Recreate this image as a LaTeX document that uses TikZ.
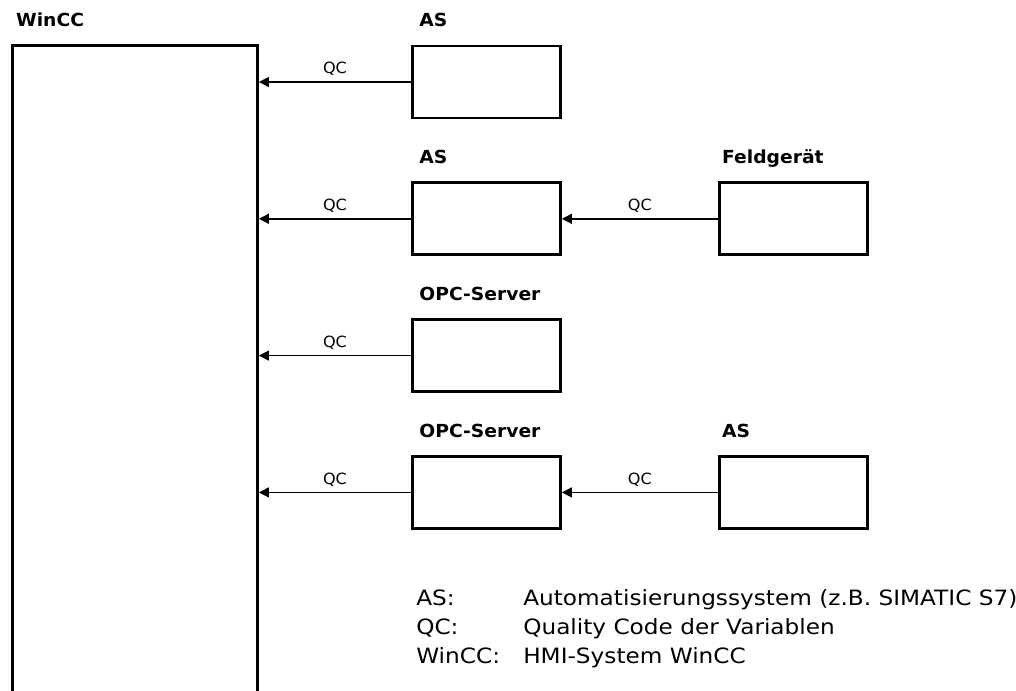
\documentclass[tikz,border=0pt]{standalone}
\usepackage{fontspec}
\setmainfont{DejaVu Sans}
\newfontfamily\lblfont[FakeStretch=1.04]{DejaVu Sans}
\newfontfamily\legfont[FakeStretch=1.1]{DejaVu Sans}
\usetikzlibrary{arrows.meta, positioning}

\begin{document}
\begin{tikzpicture}[
    node distance=1.55cm and 3.9cm, % Abstand zwischen den Kaesten
    % Gaengige Formen
    unit/.style={rectangle, draw=black, line width=2pt, minimum width=3.7cm, minimum height=1.8cm, inner sep=0pt},
    frame/.style={rectangle, draw=black, line width=2pt, minimum width=6.125cm, minimum height=16.6375cm, inner sep=0pt},
    lbl/.style={font=\lblfont\bfseries\fontsize{12.8}{15}\selectfont, inner sep=0pt, anchor=base west},
    qc/.style={font=\lblfont\fontsize{11}{13}\selectfont, above, inner sep=3pt, yshift=1pt},
    leg/.style={font=\legfont\fontsize{15}{18}\selectfont, inner sep=0pt, anchor=base west},
    % Pfeile
    arrow/.style={-{Triangle[length=7pt, width=7pt]}, line width=1pt}
]
\useasboundingbox (0,0) rectangle (25.4,17.275);

% WinCC (unten offen)
\node (wincc) [frame] at (3.375,7.81875) {};
\node (winccl) [lbl] at ([xshift=0.12cm, yshift=0.45cm]wincc.north west) {WinCC};

% Kaesten
\node (as1) [unit] at (12.1625,15.225) {};
\node (as2) [unit, below=of as1] {};
\node (feld) [unit, right=of as2] {};
\node (opc1) [unit, below=of as2] {};
\node (opc2) [unit, below=of opc1] {};
\node (as3) [unit, right=of opc2] {};

% Beschriftungen
\node (as1l) [lbl] at ([xshift=0.2cm, yshift=0.45cm]as1.north west) {AS};
\node (as2l) [lbl] at ([xshift=0.2cm, yshift=0.45cm]as2.north west) {AS};
\node (feldl) [lbl] at ([xshift=0.1cm, yshift=0.45cm]feld.north west) {Feldgerät};
\node (opc1l) [lbl] at ([xshift=0.2cm, yshift=0.45cm]opc1.north west) {OPC-Server};
\node (opc2l) [lbl] at ([xshift=0.2cm, yshift=0.45cm]opc2.north west) {OPC-Server};
\node (as3l) [lbl] at ([xshift=0.1cm, yshift=0.45cm]as3.north west) {AS};

% Verbindungen
\draw [arrow] (as1.west) -- (as1.west -| wincc.east) node[qc, midway] {QC};
\draw [arrow] (as2.west) -- (as2.west -| wincc.east) node[qc, midway] {QC};
\draw [arrow] (feld.west) -- (as2.east) node[qc, midway] {QC};
\draw [arrow] (opc1.west) -- (opc1.west -| wincc.east) node[qc, midway] {QC};
\draw [arrow] (opc2.west) -- (opc2.west -| wincc.east) node[qc, midway] {QC};
\draw [arrow] (as3.west) -- (opc2.east) node[qc, midway] {QC};

% Legende
\node (keyas) [leg] at (10.4,2.14) {AS:};
\node (keyqc) [leg] at (10.4,1.41) {QC:};
\node (keywcc) [leg] at (10.4,0.69) {WinCC:};
\node (descas) [leg] at (13.075,2.14) {Automatisierungssystem (z.B. SIMATIC S7)};
\node (descqc) [leg] at (13.075,1.41) {Quality Code der Variablen};
\node (descwcc) [leg] at (13.075,0.69) {HMI-System WinCC};

\end{tikzpicture}
\end{document}
